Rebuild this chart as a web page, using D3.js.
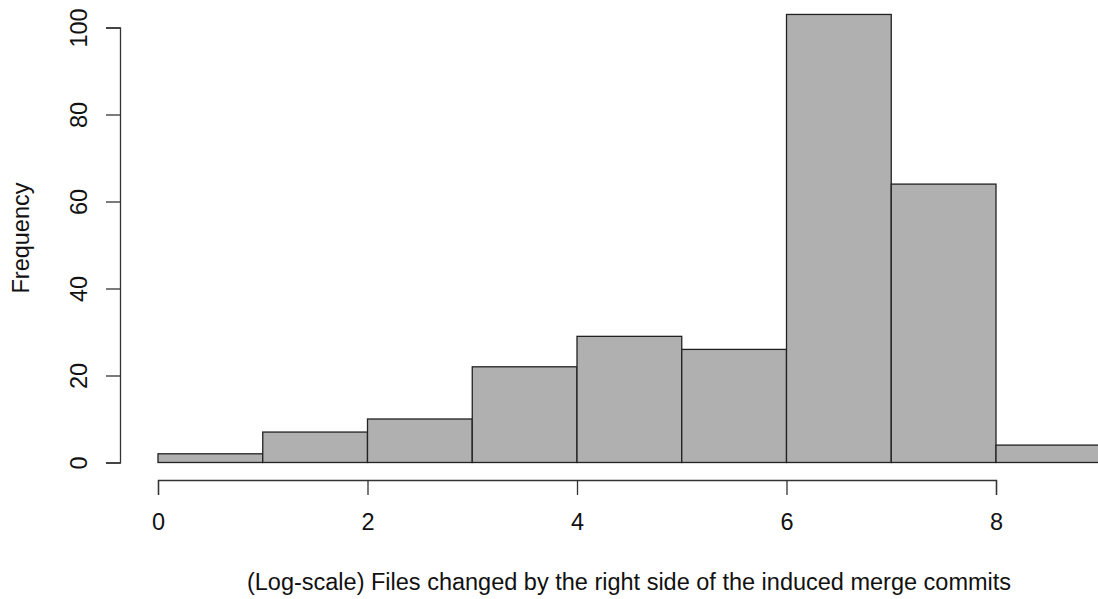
<!DOCTYPE html>
<html>
<head>
<meta charset="utf-8">
<script src="https://cdn.jsdelivr.net/npm/d3@7"></script>
<style>
  body { margin: 0; background: white; }
  svg { display: block; }
  text { font-family: "Liberation Sans", Arial, sans-serif; fill: #111; }
</style>
</head>
<body>
<div id="chart"></div>
<script>
var width = 1098, height = 599;

// histogram bins (log-scale, width 1) and their counts
var binStarts = [0, 1, 2, 3, 4, 5, 6, 7, 8];
var binEnds   = [1, 2, 3, 4, 5, 6, 7, 8, 9];
var counts    = [2, 7, 10, 22, 29, 26, 103, 64, 4];
var xTicks = [0, 2, 4, 6, 8];
var yTicks = [0, 20, 40, 60, 80, 100];

var bins = binStarts.map(function (s, i) {
    return {x0: s, x1: binEnds[i], n: counts[i]};
});

var svg = d3.select("#chart")
    .append("svg")
    .attr("width", width)
    .attr("height", height);

// scales - axis lines only span first to last tick, like base R
var x = d3.scaleLinear()
    .domain([0, 8])
    .range([158, 996]);

var y = d3.scaleLinear()
    .domain([0, 100])
    .range([462.5, 27.5]);

// bars
svg.append("g").selectAll(".bar")
    .data(bins)
    .enter().append("rect")
    .attr("class", "bar")
    .attr("x", function (d) { return x(d.x0); })
    .attr("y", function (d) { return y(d.n); })
    .attr("width", function (d) { return x(d.x1) - x(d.x0); })
    .attr("height", function (d) { return y(0) - y(d.n); })
    .attr("fill", "#b0b0b0")
    .attr("stroke", "#222")
    .attr("stroke-width", 1.3);

// x axis
var xAxis = svg.append("g")
    .attr("transform", "translate(0,480)")
    .call(d3.axisBottom(x).tickValues(xTicks).tickSizeOuter(0).tickSize(15));
xAxis.select(".domain").attr("stroke", "#333").attr("stroke-width", 1.3);
xAxis.selectAll(".tick line").attr("stroke", "#333").attr("stroke-width", 1.3);
xAxis.selectAll(".tick text")
    .attr("y", 50).attr("dy", null)
    .style("font-size", "23.5px")
    .style("font-family", "Liberation Sans, Arial, sans-serif")
    .attr("fill", "#111");

// y axis, labels parallel to the axis
var yAxis = svg.append("g")
    .attr("transform", "translate(120,0)")
    .call(d3.axisLeft(y).tickValues(yTicks).tickSizeOuter(0).tickSize(14));
yAxis.select(".domain").attr("stroke", "#333").attr("stroke-width", 1.3);
yAxis.selectAll(".tick line").attr("stroke", "#333").attr("stroke-width", 1.3);
yAxis.selectAll(".tick text")
    .attr("x", null).attr("dy", null)
    .attr("text-anchor", "middle")
    .attr("transform", "translate(-33,0) rotate(-90)")
    .style("font-size", "23.5px")
    .style("font-family", "Liberation Sans, Arial, sans-serif")
    .attr("fill", "#111");

// axis titles
svg.append("text")
    .attr("x", 629)
    .attr("y", 590)
    .attr("text-anchor", "middle")
    .style("font-size", "23.5px")
    .text("(Log-scale) Files changed by the right side of the induced merge commits");

svg.append("text")
    .attr("transform", "translate(29,238) rotate(-90)")
    .attr("text-anchor", "middle")
    .style("font-size", "23.5px")
    .text("Frequency");
</script>
</body>
</html>
